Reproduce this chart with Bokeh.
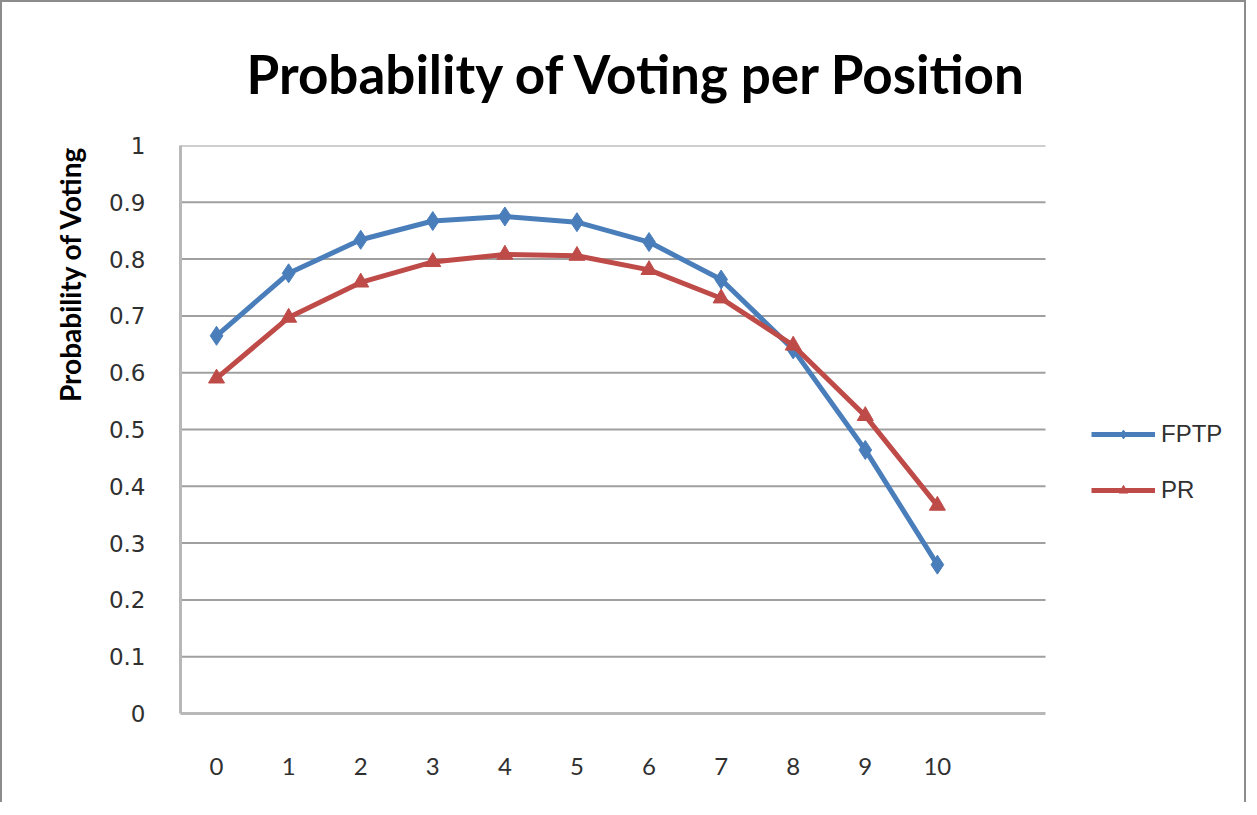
from bokeh.plotting import figure
from bokeh.models import FixedTicker, Legend, LegendItem, Range1d, Title
from bokeh.embed import file_html
from bokeh.resources import INLINE

positions = [0, 1, 2, 3, 4, 5, 6, 7, 8, 9, 10]
fptp = [0.665, 0.775, 0.834, 0.867, 0.875, 0.865, 0.830, 0.764, 0.641, 0.464, 0.262]
pr = [0.590, 0.697, 0.759, 0.795, 0.808, 0.806, 0.781, 0.731, 0.648, 0.524, 0.366]
y_ticks = [0, 0.1, 0.2, 0.3, 0.4, 0.5, 0.6, 0.7, 0.8, 0.9, 1]
y_tick_labels = ["0", "0.1", "0.2", "0.3", "0.4", "0.5", "0.6", "0.7", "0.8", "0.9", "1"]
x_tick_labels = [str(v) for v in positions]

BLUE = "#4a7ebb"
RED = "#be4b48"

# plot area spans 12 category slots (-0.5 .. 11.5); the frame extends further right
# so that the legend can sit beside the plot area
X0, X1 = -0.5, 11.5
FRAME_W, FRAME_H = 1059, 568
px_per_unit = 865 / (X1 - X0)

p = figure(frame_width=FRAME_W, frame_height=FRAME_H, output_backend="svg",
           toolbar_location=None,
           x_range=Range1d(X0, X0 + FRAME_W / px_per_unit), y_range=Range1d(0, 1),
           min_border_left=178, min_border_right=5, min_border_top=142,
           min_border_bottom=89)
p.styles = {"border-top": "2px solid #8c8c8c", "border-left": "2px solid #8c8c8c",
            "border-right": "2px solid #8c8c8c"}

p.title = Title(text="Probability of Voting per Position", align="left",
                vertical_align="top",
                text_font="Lato", text_font_size="53px", text_font_style="bold",
                text_color="#000000", offset=66, standoff=78)
p.outline_line_color = None

# y axis title placed near the top of the left side
p.add_layout(Title(text="Probability of Voting", align="right", offset=0,
                   text_font="Lato", text_font_size="28px", text_font_style="bold",
                   text_color="#000000", standoff=38), "left")

# axes
p.xaxis.ticker = FixedTicker(ticks=positions)
p.xaxis.major_label_overrides = {v: s for v, s in zip(positions, x_tick_labels)}
p.xaxis.bounds = (X0, X1)
p.yaxis.ticker = FixedTicker(ticks=y_ticks)
p.yaxis.major_label_overrides = {v: s for v, s in zip(y_ticks, y_tick_labels)}
for ax in (p.xaxis, p.yaxis):
    ax.axis_line_color = "#b8b8b8"
    ax.axis_line_width = 3
    ax.major_tick_line_color = None
    ax.minor_tick_line_color = None
    ax.major_label_text_color = "#303030"
p.xaxis.major_label_text_font = "Lato"
p.xaxis.major_label_text_font_size = "24px"
p.xaxis.major_label_standoff = 38
p.yaxis.major_label_text_font = "DejaVu Sans"
p.yaxis.major_label_text_font_size = "23px"
p.yaxis.major_label_standoff = 29

p.xgrid.grid_line_color = None
p.ygrid.grid_line_color = None
# horizontal gridlines limited to the plot area
p.segment(x0=X0, x1=X1, y0=y_ticks[1:], y1=y_ticks[1:], line_color="#a0a0a0", line_width=2)

l1 = p.line(positions, fptp, line_color=BLUE, line_width=5)
m1 = p.scatter(positions, fptp, marker="diamond", size=19, fill_color=BLUE, line_color=BLUE)
l2 = p.line(positions, pr, line_color=RED, line_width=5)
m2 = p.scatter(positions, pr, marker="triangle", size=16, fill_color=RED, line_color=RED)

legend = Legend(items=[LegendItem(label="FPTP", renderers=[l1, m1]),
                       LegendItem(label="PR", renderers=[l2, m2])],
                location=(911, 209), orientation="vertical",
                glyph_width=64, glyph_height=22, label_height=22, spacing=28,
                label_standoff=6, padding=0, margin=0,
                border_line_color=None, background_fill_alpha=0,
                label_text_font="Liberation Sans", label_text_font_size="24px",
                label_text_color="#303030")
p.add_layout(legend)

open("out.html", "w").write(file_html(p, INLINE))
